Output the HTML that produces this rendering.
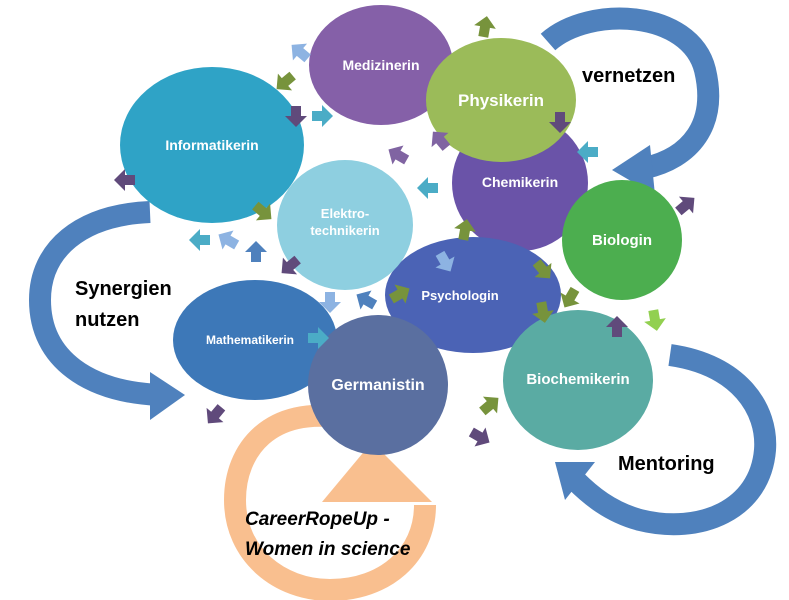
<!DOCTYPE html>
<html><head><meta charset="utf-8"><style>
html,body{margin:0;padding:0;background:#fff;}
svg{display:block;}
text{font-family:"Liberation Sans",sans-serif;font-weight:bold;}
</style></head><body>
<svg width="789" height="600" viewBox="0 0 789 600" xmlns="http://www.w3.org/2000/svg">
<defs>
<polygon id="a" points="-10,-5 0,-5 0,-11 11,0 0,11 0,5 -10,5"/>
</defs>
<rect width="789" height="600" fill="#fff"/>
<!-- big blue arcs -->
<g fill="none" stroke="#4f81bd" stroke-width="22">
<path d="M548,42 C590,5 690,10 705,70 C718,125 690,158 645,168"/>
<path d="M150,212 C80,215 40,250 40,300 C40,360 90,392 160,395"/>
<path d="M670,355 C740,365 768,410 765,450 C760,510 700,535 640,520 C610,512 590,495 575,480"/>
</g>
<polygon points="612,170 650,145 655,195" fill="#4f81bd"/>
<polygon points="185,395 150,372 150,420" fill="#4f81bd"/>
<polygon points="555,462 595,462 565,500" fill="#4f81bd"/>
<!-- orange ring -->
<path d="M345,418 C270,405 235,450 235,500 C235,555 280,590 330,590 C385,590 425,555 425,505" fill="none" stroke="#f9bf8f" stroke-width="22"/>
<polygon points="322,502 432,502 372,442" fill="#f9bf8f"/>
<!-- ellipses -->
<ellipse cx="381" cy="65" rx="72" ry="60" fill="#8560a8"/>
<ellipse cx="212" cy="145" rx="92" ry="78" fill="#2fa3c6"/>
<ellipse cx="520" cy="183" rx="68" ry="68" fill="#6a53a8"/>
<ellipse cx="501" cy="100" rx="75" ry="62" fill="#9bbb59"/>
<ellipse cx="622" cy="240" rx="60" ry="60" fill="#4cae4f"/>
<ellipse cx="473" cy="295" rx="88" ry="58" fill="#4b63b5"/>
<ellipse cx="345" cy="225" rx="68" ry="65" fill="#8ecfe0"/>
<ellipse cx="255" cy="340" rx="82" ry="60" fill="#3d78b8"/>
<ellipse cx="578" cy="380" rx="75" ry="70" fill="#5aaba3"/>
<ellipse cx="378" cy="385" rx="70" ry="70" fill="#5a6fa0"/>
<!-- labels -->
<g fill="#fff" text-anchor="middle">
<text x="381" y="70" font-size="14">Medizinerin</text>
<text x="501" y="106" font-size="17">Physikerin</text>
<text x="212" y="150" font-size="14">Informatikerin</text>
<text x="520" y="187" font-size="14">Chemikerin</text>
<text x="622" y="245" font-size="15">Biologin</text>
<text x="345" y="218" font-size="13">Elektro-</text>
<text x="345" y="235" font-size="13">technikerin</text>
<text x="460" y="300" font-size="13">Psychologin</text>
<text x="250" y="344" font-size="12">Mathematikerin</text>
<text x="378" y="390" font-size="16">Germanistin</text>
<text x="578" y="384" font-size="15">Biochemikerin</text>
</g>
<g fill="#000">
<text x="582" y="82" font-size="20">vernetzen</text>
<text x="75" y="295" font-size="20">Synergien</text>
<text x="75" y="326" font-size="20">nutzen</text>
<text x="618" y="470" font-size="20">Mentoring</text>
<text x="245" y="525" font-size="19" font-style="italic">CareerRopeUp -</text>
<text x="245" y="555" font-size="19" font-style="italic">Women in science</text>
</g>
<!-- small arrows -->
<use href="#a" transform="translate(485,27) rotate(-80)" fill="#77933c"/>
<use href="#a" transform="translate(300,52) rotate(-140)" fill="#8db3e2"/>
<use href="#a" transform="translate(285,82) rotate(140)" fill="#77933c"/>
<use href="#a" transform="translate(296,116) rotate(90)" fill="#604a7b"/>
<use href="#a" transform="translate(322,116) rotate(0)" fill="#4bacc6"/>
<use href="#a" transform="translate(398,155) rotate(-150)" fill="#8064a2"/>
<use href="#a" transform="translate(440,140) rotate(-130)" fill="#8064a2"/>
<use href="#a" transform="translate(560,122) rotate(90)" fill="#604a7b"/>
<use href="#a" transform="translate(588,152) rotate(180)" fill="#4bacc6"/>
<use href="#a" transform="translate(125,180) rotate(180)" fill="#604a7b"/>
<use href="#a" transform="translate(263,212) rotate(40)" fill="#77933c"/>
<use href="#a" transform="translate(428,188) rotate(180)" fill="#4bacc6"/>
<use href="#a" transform="translate(200,240) rotate(180)" fill="#4bacc6"/>
<use href="#a" transform="translate(228,240) rotate(-150)" fill="#8db3e2"/>
<use href="#a" transform="translate(256,252) rotate(-90)" fill="#4f81bd"/>
<use href="#a" transform="translate(290,266) rotate(140)" fill="#604a7b"/>
<use href="#a" transform="translate(465,230) rotate(-80)" fill="#77933c"/>
<use href="#a" transform="translate(445,262) rotate(60)" fill="#8db3e2"/>
<use href="#a" transform="translate(543,270) rotate(50)" fill="#77933c"/>
<use href="#a" transform="translate(543,312) rotate(80)" fill="#77933c"/>
<use href="#a" transform="translate(570,298) rotate(120)" fill="#77933c"/>
<use href="#a" transform="translate(686,205) rotate(-40)" fill="#604a7b"/>
<use href="#a" transform="translate(655,320) rotate(80)" fill="#92d050"/>
<use href="#a" transform="translate(617,327) rotate(-90)" fill="#604a7b"/>
<use href="#a" transform="translate(330,302) rotate(90)" fill="#8db3e2"/>
<use href="#a" transform="translate(366,300) rotate(-150)" fill="#4f81bd"/>
<use href="#a" transform="translate(400,294) rotate(-30)" fill="#77933c"/>
<use href="#a" transform="translate(490,405) rotate(-40)" fill="#77933c"/>
<use href="#a" transform="translate(480,437) rotate(30)" fill="#604a7b"/>
<use href="#a" transform="translate(215,415) rotate(130)" fill="#604a7b"/>
<use href="#a" transform="translate(318,338) rotate(0)" fill="#4bacc6"/>
</svg>
</body></html>
